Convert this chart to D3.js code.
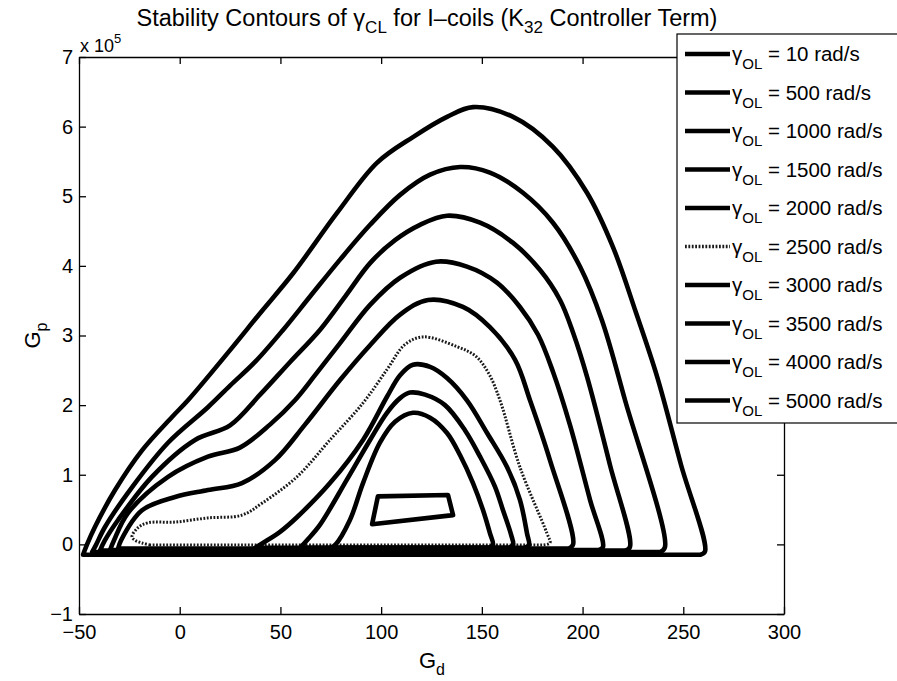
<!DOCTYPE html>
<html>
<head>
<meta charset="utf-8">
<script src="https://cdn.jsdelivr.net/npm/d3@7"></script>
<style>
  body { margin: 0; background: #fff; }
  svg text { font-family: "Liberation Sans", Arial, Helvetica, sans-serif; fill: #000; }
</style>
</head>
<body>
<div id="chart"></div>
<script>
// gamma_OL values (rad/s), one contour per value
const gammaLabels = ["10", "500", "1000", "1500", "2000", "2500", "3000", "3500", "4000", "5000"];

// contour points [Gd, Gp / 1e5]
// each loop starts bottom-left and ends bottom-right, the bottom edge closes it
const gam10 = [[-48.0,-0.15],[-46.0,0.0],[-42.1,0.25],[-32.1,0.78],[-18.7,1.35],[-3.8,1.83],[4.1,2.07],[25.0,2.79],[39.9,3.32],[56.2,3.89],[78.1,4.76],[97.9,5.48],[115.8,5.85],[132.7,6.14],[145.6,6.28],[165.5,6.14],[185.3,5.71],[202.2,5.05],[215.1,4.27],[226.5,3.33],[237.0,2.41],[248.9,1.14],[260.8,-0.10],[258.5,-0.15]];
const gam500 = [[-43.5,-0.11],[-41.6,-0.01],[-37.1,0.25],[-23.7,0.82],[-5.8,1.46],[14.0,1.97],[25.0,2.28],[37.4,2.62],[51.3,3.08],[64.7,3.56],[79.6,4.09],[94.5,4.59],[109.4,5.02],[124.3,5.31],[139.2,5.42],[154.0,5.34],[170.4,5.05],[185.3,4.62],[198.7,3.99],[209.6,3.22],[221.1,2.07],[240.9,-0.04],[238.5,-0.11]];
const gam1000 = [[-39.6,-0.09],[-37.1,0.06],[-30.6,0.35],[-13.8,0.97],[7.6,1.50],[25.0,1.71],[39.9,2.15],[54.8,2.62],[69.6,3.08],[82.1,3.56],[94.5,4.04],[106.9,4.37],[119.3,4.59],[132.7,4.72],[149.1,4.62],[165.5,4.33],[178.9,3.94],[188.8,3.51],[195.3,3.04],[202.2,2.41],[213.6,1.14],[223.5,-0.04],[221.0,-0.09]];
const gam1500 = [[-34.6,-0.08],[-32.6,0.06],[-25.7,0.45],[-5.8,0.97],[14.0,1.26],[29.9,1.39],[44.8,1.72],[57.2,2.07],[67.2,2.43],[79.6,2.89],[94.5,3.44],[109.4,3.83],[127.2,4.06],[142.6,3.99],[157.5,3.76],[168.9,3.41],[177.9,3.01],[185.3,2.48],[193.8,1.71],[203.7,0.64],[210.1,-0.04],[208.0,-0.08]];
const gam2000 = [[-30.6,-0.06],[-29.1,0.06],[-18.7,0.49],[-2.3,0.68],[14.0,0.78],[30.9,0.88],[47.3,1.21],[62.2,1.72],[79.6,2.36],[94.5,2.86],[109.4,3.30],[123.3,3.51],[140.6,3.41],[154.0,3.12],[166.5,2.65],[173.9,2.07],[183.8,1.21],[195.3,0.0],[193.0,-0.06]];
const gam2500 = [[-14.7,-0.01],[-18.7,0.02],[-22.2,0.06],[-23.7,0.11],[-20.7,0.24],[-15.7,0.31],[-2.3,0.32],[14.0,0.38],[30.9,0.42],[41.3,0.60],[58.2,0.97],[74.6,1.50],[91.0,2.03],[102.9,2.51],[111.8,2.87],[120.8,2.98],[137.7,2.84],[147.1,2.70],[153.5,2.45],[159.0,2.07],[168.9,1.11],[182.3,0.16],[183.8,0.02],[180.0,-0.01]];
const gam3000 = [[37.4,-0.05],[41.3,0.02],[49.8,0.18],[58.2,0.39],[74.6,0.88],[91.0,1.50],[102.9,2.12],[109.4,2.43],[115.8,2.58],[124.3,2.55],[132.7,2.39],[142.6,2.07],[152.6,1.60],[162.5,1.11],[168.9,0.64],[172.4,0.16],[173.4,-0.01],[171.0,-0.05]];
const gam3500 = [[59.7,-0.05],[63.2,0.06],[69.6,0.28],[83.0,0.93],[94.5,1.50],[102.9,1.89],[109.4,2.10],[114.3,2.18],[121.8,2.15],[131.7,2.00],[141.6,1.64],[149.1,1.26],[156.5,0.83],[160.5,0.49],[164.5,0.14],[165.5,-0.01],[163.0,-0.05]];
const gam4000 = [[74.6,-0.05],[77.1,-0.01],[84.5,0.35],[91.0,0.88],[99.4,1.46],[106.9,1.76],[115.8,1.89],[124.3,1.82],[132.7,1.60],[139.2,1.28],[145.6,0.88],[150.6,0.49],[154.0,0.16],[155.5,-0.01],[153.0,-0.05]];
const gam5000 = [[98.4,0.69],[133.2,0.71],[135.7,0.42],[95.5,0.29]];

const contours = [gam10, gam500, gam1000, gam1500, gam2000, gam2500, gam3000, gam3500, gam4000, gam5000];

const xTicks = [-50, 0, 50, 100, 150, 200, 250, 300];
const yTicks = [-1, 0, 1, 2, 3, 4, 5, 6, 7];

const width = 897;
const height = 681;
const margin = { top: 57, right: 113, bottom: 67, left: 79 };

const svg = d3
  .select("#chart")
  .append("svg")
  .attr("width", width)
  .attr("height", height);

const x = d3
  .scaleLinear()
  .domain([-50, 300])
  .range([margin.left, width - margin.right]);

const y = d3
  .scaleLinear()
  .domain([-1, 7])
  .range([height - margin.bottom, margin.top]);

// contours: smooth arch, straight closing edge along the bottom
const smooth = d3
  .line()
  .x((d) => x(d[0]))
  .y((d) => y(d[1]))
  .curve(d3.curveCatmullRom.alpha(0.5));

const straight = d3
  .line()
  .x((d) => x(d[0]))
  .y((d) => y(d[1]))
  .curve(d3.curveLinearClosed);

const isDotted = (i) => gammaLabels[i] === "2500";

svg
  .append("g")
  .selectAll("path")
  .data(contours)
  .enter()
  .append("path")
  .attr("d", (d, i) => (i === contours.length - 1 ? straight(d) : smooth(d) + "Z"))
  .attr("fill", "none")
  .attr("stroke", (d, i) => (isDotted(i) ? "#1a1a1a" : "#000"))
  .attr("stroke-width", (d, i) => (isDotted(i) ? 3 : 4.6))
  .attr("stroke-dasharray", (d, i) => (isDotted(i) ? "1.8,1.6" : null))
  .attr("stroke-linejoin", "round")
  .attr("stroke-linecap", (d, i) => (isDotted(i) ? "butt" : "round"));

// axes box, ticks pointing inside
const styleAxis = (g) => {
  g.select(".domain").attr("stroke", "#000").attr("stroke-width", 1.3);
  g.selectAll(".tick line").attr("stroke", "#000").attr("stroke-width", 1.3);
  g.selectAll(".tick text")
    .style("font-family", '"Liberation Sans", Arial, sans-serif')
    .style("font-size", "20px");
};

svg
  .append("g")
  .attr("transform", `translate(0,${height - margin.bottom})`)
  .call(d3.axisBottom(x).tickValues(xTicks).tickSizeInner(-7).tickSizeOuter(0).tickPadding(11))
  .call(styleAxis);

svg
  .append("g")
  .attr("transform", `translate(0,${margin.top})`)
  .call(d3.axisTop(x).tickValues(xTicks).tickSizeInner(-7).tickSizeOuter(0).tickFormat(""))
  .call(styleAxis);

svg
  .append("g")
  .attr("transform", `translate(${margin.left},0)`)
  .call(d3.axisLeft(y).tickValues(yTicks).tickSizeInner(-7).tickSizeOuter(0).tickPadding(6))
  .call(styleAxis);

svg
  .append("g")
  .attr("transform", `translate(${width - margin.right},0)`)
  .call(d3.axisRight(y).tickValues(yTicks).tickSizeInner(-7).tickSizeOuter(0).tickFormat(""))
  .call(styleAxis);

// exponent
const expo = svg.append("text").attr("x", 80).attr("y", 52).style("font-size", "18px");
expo.append("tspan").text("x 10");
expo.append("tspan").attr("dy", -9).style("font-size", "13px").text("5");

// title
const title = svg
  .append("text")
  .attr("x", 427)
  .attr("y", 26)
  .attr("text-anchor", "middle")
  .style("font-size", "23.5px");
title.append("tspan").text("Stability Contours of γ");
title.append("tspan").attr("dy", 7).style("font-size", "17px").text("CL");
title.append("tspan").attr("dy", -7).text(" for I\u2013coils (K");
title.append("tspan").attr("dy", 7).style("font-size", "17px").text("32");
title.append("tspan").attr("dy", -7).text(" Controller Term)");

// axis labels
const xLabel = svg
  .append("text")
  .attr("x", 432)
  .attr("y", 668)
  .attr("text-anchor", "middle")
  .style("font-size", "22px");
xLabel.append("tspan").text("G");
xLabel.append("tspan").attr("dy", 7).style("font-size", "16px").text("d");

const yLabel = svg
  .append("text")
  .attr("transform", `translate(40,${(margin.top + height - margin.bottom) / 2}) rotate(-90)`)
  .attr("text-anchor", "middle")
  .style("font-size", "22px");
yLabel.append("tspan").text("G");
yLabel.append("tspan").attr("dy", 7).style("font-size", "16px").text("p");

// legend
const legend = svg.append("g");
legend
  .append("rect")
  .attr("x", 677)
  .attr("y", 34)
  .attr("width", 240)
  .attr("height", 389)
  .attr("fill", "#fff")
  .attr("stroke", "#000")
  .attr("stroke-width", 1.2);

const rows = legend
  .selectAll(".row")
  .data(gammaLabels)
  .enter()
  .append("g")
  .attr("class", "row")
  .attr("transform", (d, i) => `translate(0,${54 + i * 38.5})`);

rows
  .append("line")
  .attr("x1", 685)
  .attr("x2", 730)
  .attr("stroke", (d, i) => (isDotted(i) ? "#1a1a1a" : "#000"))
  .attr("stroke-width", (d, i) => (isDotted(i) ? 3.5 : 4.6))
  .attr("stroke-dasharray", (d, i) => (isDotted(i) ? "1.8,1.6" : null));

const rowText = rows.append("text").attr("x", 732).attr("y", 7).style("font-size", "20.5px");
rowText.append("tspan").text("γ");
rowText.append("tspan").attr("dy", 8).style("font-size", "15px").text("OL");
rowText.append("tspan").attr("dy", -8).text((d) => ` = ${d} rad/s`);
</script>
</body>
</html>
